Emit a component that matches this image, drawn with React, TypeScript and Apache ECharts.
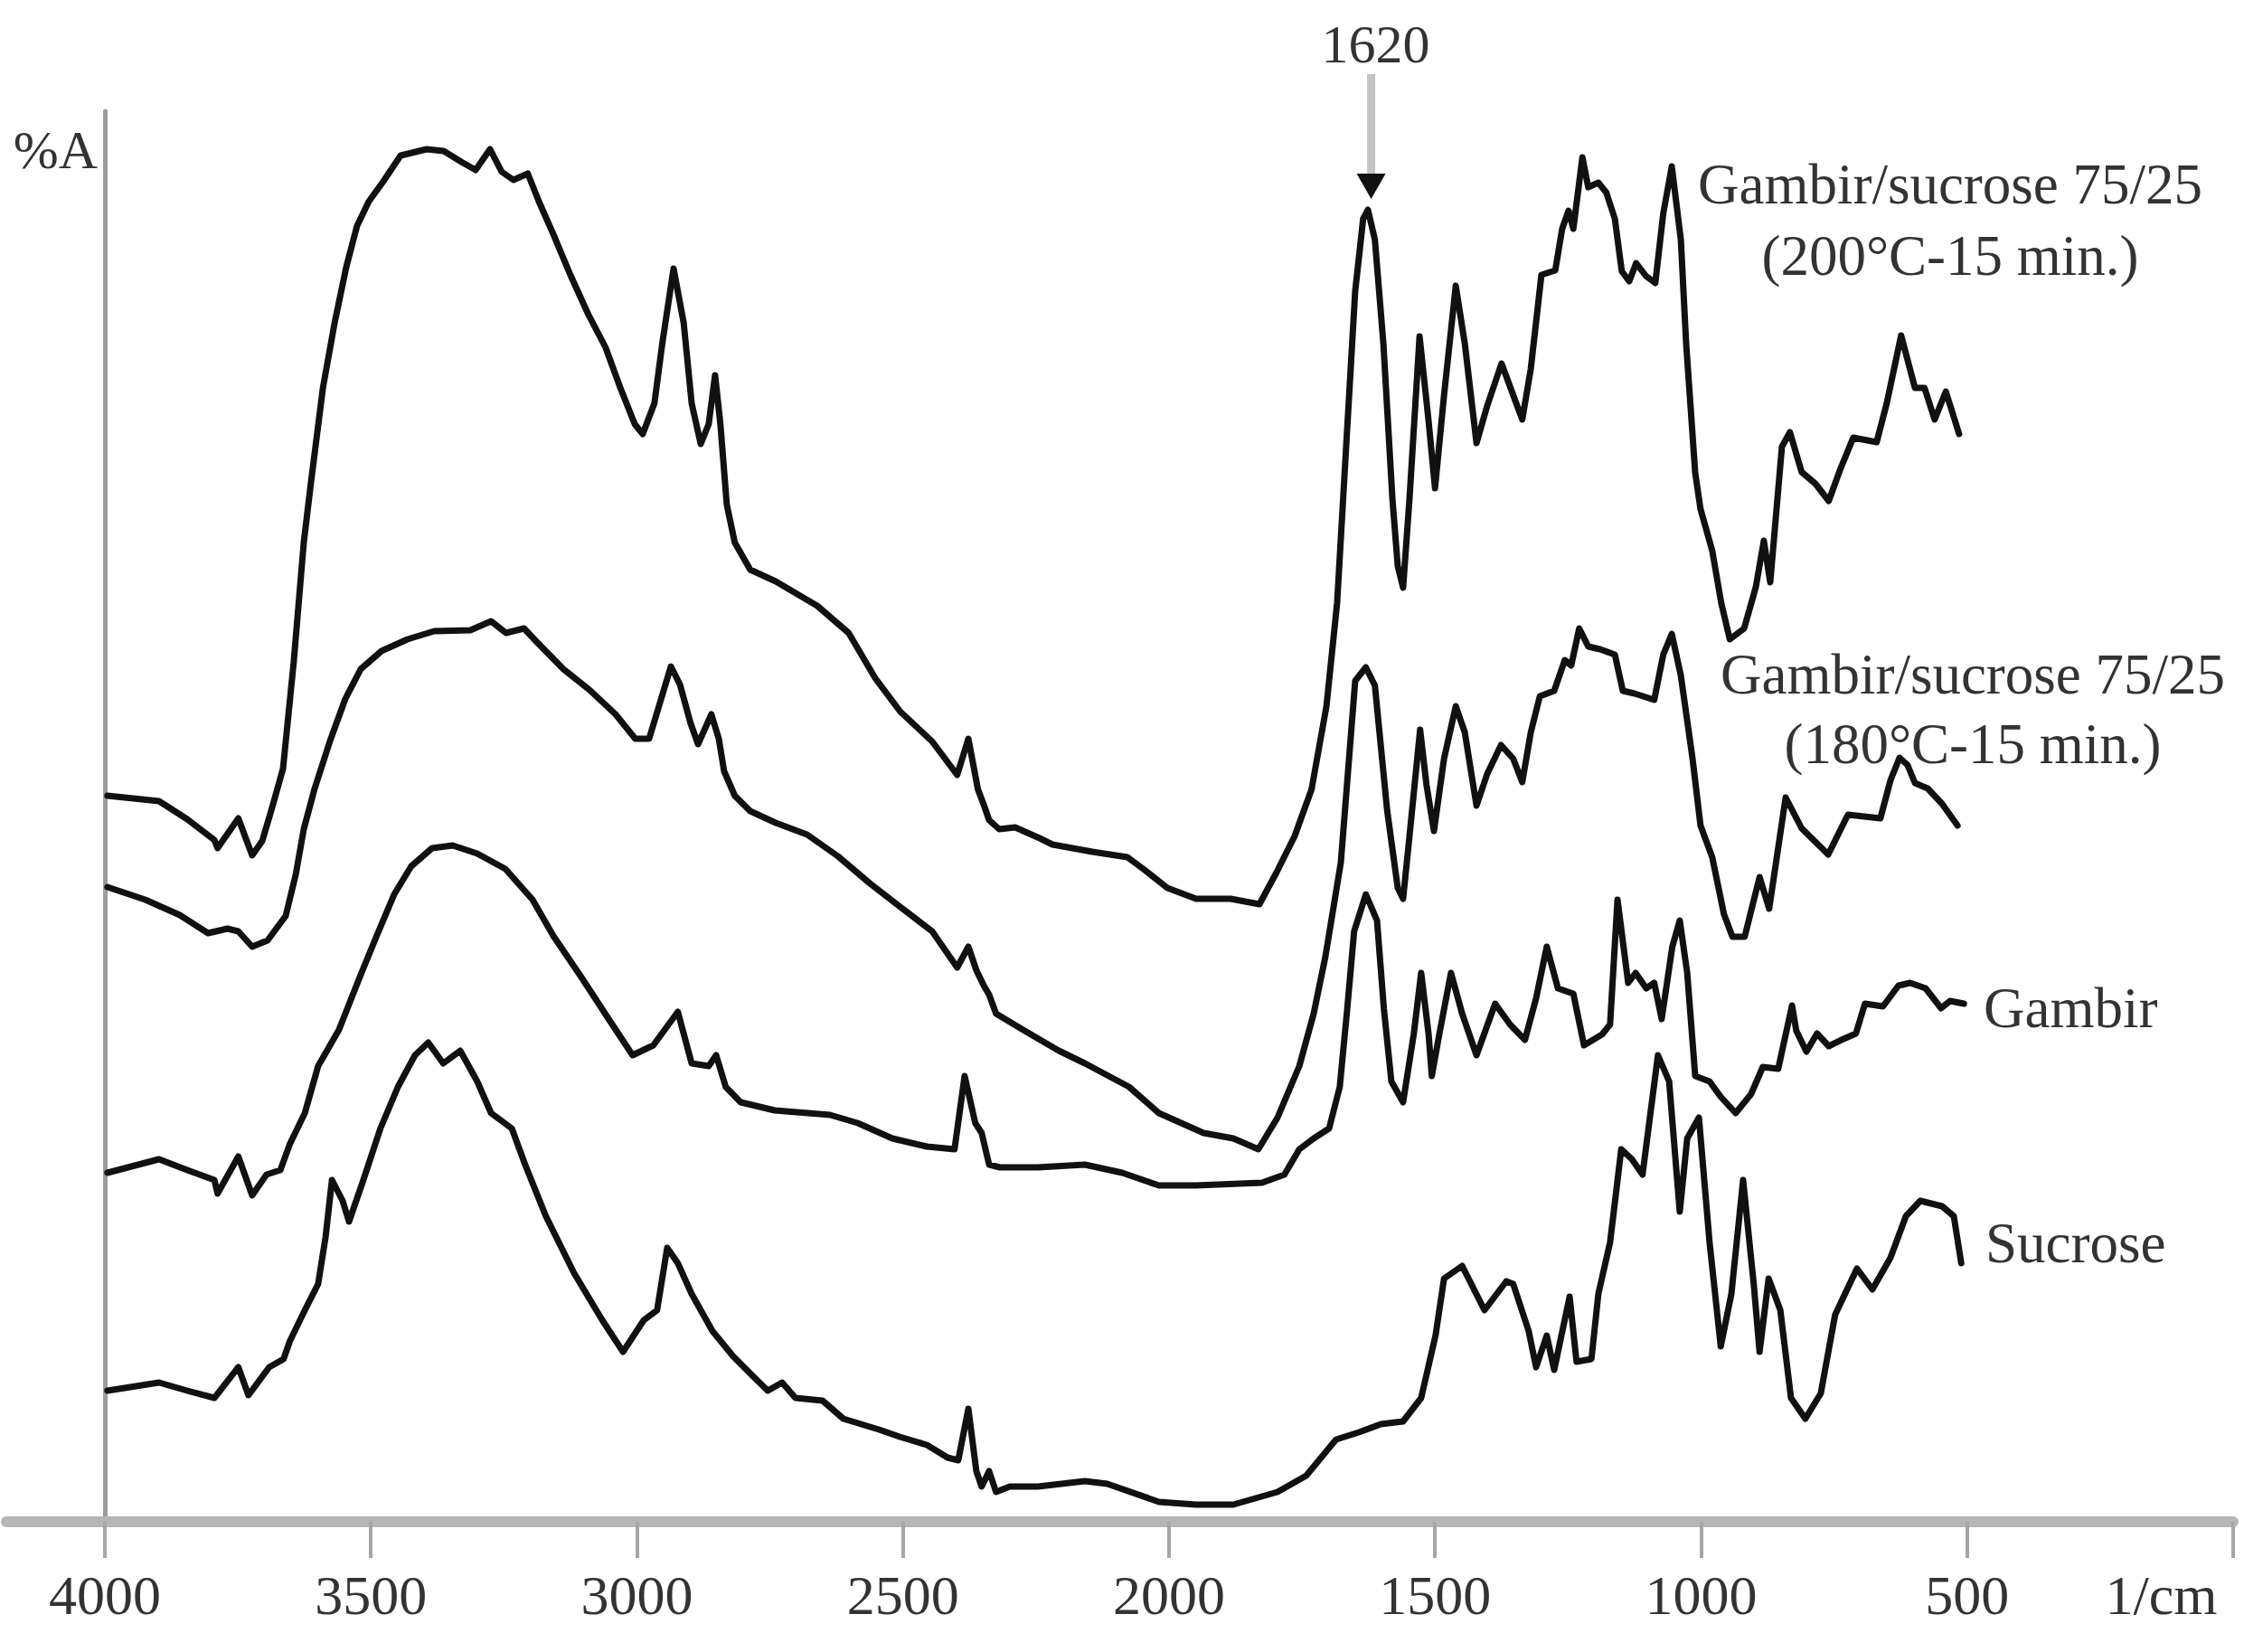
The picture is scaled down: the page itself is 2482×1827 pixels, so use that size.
import React, { useEffect, useRef } from 'react';
import * as echarts from 'echarts';

// x axis: wavenumber (1/cm), drawn reversed
const tickValues = [0, 500, 1000, 1500, 2000, 2500, 3000, 3500, 4000];
const labelValues = [500, 1000, 1500, 2000, 2500, 3000, 3500, 4000];
const unitValue = 135;
const unitText = '1/cm';
const yName = '%A';
const peakValue = 1620;
const peakText = '1620';

const label200 = ['Gambir/sucrose 75/25', '(200\u00B0C-15 min.)'];
const label180 = ['Gambir/sucrose 75/25', '(180\u00B0C-15 min.)'];
const labelGambir = 'Gambir';
const labelSucrose = 'Sucrose';

// [wavenumber, absorbance (offset, arbitrary units)]
const gs200: number[][] = [
  [3995, 80.3], [3898, 79.7], [3845, 77.7], [3794, 75.4], [3788, 74.5], [3749, 77.8], [3723, 73.7],
  [3704, 75.3], [3684, 79.3], [3665, 83.3], [3645, 95.0], [3626, 108.3], [3613, 114.7], [3590, 125.4],
  [3568, 132.6], [3546, 138.8], [3526, 143.3], [3504, 146.0], [3477, 148.2], [3444, 151.1], [3395, 151.8],
  [3363, 151.6], [3330, 150.4], [3303, 149.5], [3276, 151.8], [3254, 149.3], [3232, 148.4], [3205, 149.1],
  [3184, 146.0], [3157, 142.4], [3125, 137.9], [3091, 133.5], [3059, 129.9], [3031, 125.4], [3004, 121.4],
  [2989, 120.3], [2967, 123.7], [2952, 130.4], [2931, 138.6], [2912, 132.6], [2897, 123.7], [2880, 119.2],
  [2865, 121.4], [2853, 126.8], [2843, 121.4], [2831, 112.5], [2816, 108.3], [2787, 105.3], [2739, 104.0],
  [2661, 101.3], [2602, 98.3], [2552, 93.3], [2505, 89.6], [2445, 86.3], [2398, 82.6], [2377, 86.6],
  [2359, 81.0], [2348, 79.3], [2338, 77.6], [2319, 76.6], [2289, 76.8], [2243, 75.6], [2219, 74.9],
  [2144, 74.1], [2078, 73.5], [2046, 72.1], [2003, 70.1], [1949, 68.9], [1884, 68.9], [1830, 68.3],
  [1798, 71.8], [1764, 75.8], [1732, 81.0], [1704, 90.2], [1684, 101.6], [1667, 118.9], [1650, 136.1],
  [1635, 144.1], [1626, 145.1], [1613, 141.8], [1597, 130.3], [1580, 113.1], [1570, 105.7], [1560, 103.3],
  [1548, 113.1], [1529, 131.1], [1512, 121.7], [1500, 114.3], [1483, 124.6], [1461, 136.7], [1444, 130.3],
  [1422, 119.3], [1402, 123.4], [1375, 128.1], [1353, 124.6], [1336, 121.9], [1320, 127.5], [1300, 137.9],
  [1274, 138.4], [1261, 143.0], [1249, 145.0], [1240, 143.0], [1223, 150.9], [1212, 147.6], [1193, 148.1],
  [1178, 147.0], [1162, 144.1], [1149, 138.3], [1135, 137.2], [1122, 139.2], [1104, 137.8], [1086, 137.0],
  [1071, 144.7], [1055, 149.9], [1038, 141.8], [1028, 130.3], [1011, 116.0], [1001, 112.0], [979, 107.4],
  [962, 101.6], [946, 97.6], [919, 98.8], [897, 103.4], [882, 108.5], [870, 103.9], [848, 118.9],
  [833, 120.5], [811, 116.1], [785, 114.8], [760, 112.9], [739, 116.3], [714, 119.9], [670, 119.4],
  [651, 123.7], [624, 131.2], [598, 125.4], [580, 125.4], [561, 121.9], [540, 125.0], [515, 120.3]
];

const gs180: number[][] = [
  [3995, 70.2], [3924, 68.8], [3859, 67.1], [3806, 65.1], [3769, 65.6], [3749, 65.3], [3723, 63.6],
  [3694, 64.3], [3660, 67.0], [3641, 71.6], [3626, 76.6], [3606, 81.0], [3577, 86.3], [3548, 91.0],
  [3519, 94.3], [3480, 96.3], [3431, 97.6], [3381, 98.5], [3313, 98.6], [3274, 99.6], [3246, 98.3],
  [3212, 98.8], [3188, 97.3], [3138, 94.3], [3089, 92.0], [3040, 89.3], [3003, 86.6], [2977, 86.6],
  [2958, 90.3], [2936, 94.6], [2919, 92.6], [2899, 88.3], [2885, 86.0], [2860, 89.3], [2846, 86.6],
  [2836, 83.0], [2816, 80.3], [2787, 78.6], [2739, 77.3], [2680, 76.0], [2622, 73.6], [2562, 70.6],
  [2505, 68.0], [2445, 65.3], [2398, 61.3], [2377, 63.6], [2362, 61.0], [2348, 59.3], [2338, 58.3],
  [2325, 56.2], [2274, 54.4], [2207, 52.1], [2158, 50.7], [2075, 48.1], [2019, 45.2], [1935, 43.0],
  [1879, 42.4], [1832, 41.2], [1796, 44.7], [1755, 50.4], [1728, 56.2], [1706, 62.5], [1677, 72.9],
  [1650, 93.0], [1630, 94.5], [1613, 92.5], [1590, 78.7], [1570, 70.1], [1560, 68.9], [1548, 75.8],
  [1528, 87.6], [1516, 81.5], [1502, 76.4], [1483, 84.4], [1461, 90.2], [1444, 87.3], [1422, 79.2],
  [1402, 82.7], [1376, 85.9], [1353, 84.4], [1336, 81.8], [1320, 87.3], [1303, 91.3], [1276, 91.9],
  [1256, 95.3], [1244, 94.7], [1229, 98.8], [1212, 96.8], [1190, 96.5], [1162, 95.9], [1147, 91.9],
  [1125, 91.6], [1088, 90.9], [1071, 95.9], [1055, 98.2], [1038, 93.6], [1016, 84.4], [1001, 77.0],
  [979, 73.5], [957, 67.2], [941, 64.7], [918, 64.7], [890, 71.3], [872, 67.8], [841, 80.1],
  [811, 76.7], [761, 73.8], [724, 78.2], [663, 77.8], [644, 82.0], [627, 84.5], [612, 83.7],
  [598, 81.7], [574, 81.1], [547, 79.4], [518, 77.0]
];

const gambir: number[][] = [
  [3995, 38.6], [3898, 40.1], [3845, 38.9], [3794, 37.8], [3788, 36.3], [3749, 40.4], [3723, 36.1],
  [3696, 38.4], [3670, 38.9], [3652, 41.8], [3624, 45.2], [3599, 50.4], [3560, 54.4], [3521, 60.2],
  [3489, 64.8], [3456, 69.4], [3424, 72.5], [3385, 74.5], [3346, 74.8], [3300, 73.9], [3247, 72.2],
  [3196, 68.8], [3157, 64.8], [3104, 60.2], [3053, 55.6], [3008, 51.6], [2969, 52.7], [2923, 56.4],
  [2897, 50.7], [2865, 50.4], [2851, 51.6], [2833, 48.1], [2805, 46.4], [2741, 45.5], [2637, 45.0],
  [2585, 44.1], [2520, 42.4], [2455, 41.5], [2403, 41.2], [2384, 49.3], [2364, 44.1], [2352, 43.0],
  [2338, 39.5], [2318, 39.2], [2246, 39.2], [2158, 39.5], [2088, 38.6], [2019, 37.2], [1949, 37.2],
  [1825, 37.5], [1783, 38.4], [1755, 41.2], [1728, 42.4], [1699, 43.5], [1679, 48.1], [1665, 56.7],
  [1652, 65.3], [1630, 69.4], [1609, 66.5], [1596, 56.7], [1582, 48.7], [1560, 46.4], [1540, 53.9],
  [1526, 60.7], [1512, 53.9], [1506, 49.3], [1492, 53.9], [1470, 60.7], [1449, 56.2], [1422, 51.6],
  [1387, 57.3], [1359, 55.0], [1331, 53.3], [1310, 57.9], [1290, 63.6], [1269, 59.0], [1240, 58.4],
  [1220, 52.7], [1186, 53.9], [1171, 55.0], [1157, 68.8], [1137, 59.6], [1123, 60.7], [1103, 59.0],
  [1088, 59.6], [1074, 55.6], [1054, 63.6], [1040, 66.5], [1026, 60.7], [1011, 49.3], [984, 48.7],
  [963, 47.0], [935, 45.2], [906, 47.3], [884, 50.3], [855, 50.1], [829, 57.1], [821, 54.3],
  [802, 52.0], [782, 54.0], [760, 52.6], [736, 53.3], [709, 54.0], [692, 57.3], [658, 57.0],
  [629, 59.3], [607, 59.6], [578, 59.0], [549, 56.8], [532, 57.6], [506, 57.3]
];

const sucrose: number[][] = [
  [3995, 14.5], [3898, 15.4], [3845, 14.5], [3794, 13.7], [3749, 17.1], [3730, 14.0], [3691, 17.1],
  [3664, 18.0], [3652, 20.0], [3624, 23.4], [3599, 26.3], [3585, 31.5], [3573, 37.8], [3553, 35.5],
  [3541, 33.2], [3514, 37.8], [3482, 43.5], [3449, 48.1], [3417, 51.6], [3392, 53.0], [3364, 50.7],
  [3332, 52.1], [3300, 48.7], [3274, 45.2], [3235, 43.5], [3210, 39.5], [3171, 33.8], [3118, 27.5],
  [3065, 22.3], [3026, 18.8], [2987, 22.3], [2962, 23.4], [2943, 30.3], [2923, 28.6], [2897, 25.2],
  [2858, 21.1], [2819, 18.3], [2780, 16.0], [2754, 14.5], [2727, 15.4], [2702, 13.7], [2651, 13.4],
  [2612, 11.4], [2545, 10.2], [2506, 9.4], [2455, 8.5], [2416, 7.1], [2396, 6.8], [2377, 12.5],
  [2362, 5.6], [2352, 3.9], [2338, 5.6], [2325, 3.3], [2299, 3.9], [2246, 3.9], [2158, 4.5],
  [2116, 4.2], [2019, 2.2], [1949, 1.9], [1879, 1.9], [1796, 3.3], [1742, 5.1], [1686, 9.1],
  [1643, 9.9], [1602, 10.8], [1560, 11.1], [1526, 13.7], [1499, 20.6], [1483, 26.9], [1449, 28.3],
  [1407, 23.4], [1366, 26.6], [1353, 26.3], [1324, 21.1], [1310, 17.1], [1290, 20.6], [1276, 16.8],
  [1247, 24.9], [1234, 17.7], [1206, 18.0], [1193, 25.2], [1171, 30.9], [1150, 41.2], [1130, 40.1],
  [1110, 38.4], [1081, 51.6], [1060, 48.7], [1040, 34.3], [1026, 42.4], [1004, 44.7], [984, 30.9],
  [963, 19.4], [943, 25.2], [921, 37.8], [901, 26.3], [890, 18.8], [873, 26.9], [851, 23.4],
  [831, 13.7], [804, 11.4], [775, 14.2], [748, 22.9], [707, 28.0], [678, 25.7], [644, 29.2],
  [615, 33.8], [588, 35.5], [547, 34.9], [525, 33.8], [511, 28.6]
];

const FONT = "'Liberation Serif', 'DejaVu Serif', serif";
const TEXT = '#333333';
const LINE = '#111111';

function textEl(text: string, x: number, y: number, align: string, size = 62) {
  return {
    type: 'text',
    x,
    y,
    silent: true,
    style: { text, fontFamily: FONT, fontSize: size, fill: TEXT, align, verticalAlign: 'middle' }
  };
}

export default function App() {
  const ref = useRef<HTMLDivElement>(null);

  useEffect(() => {
    if (!ref.current) return;
    const chart = echarts.init(ref.current, null, { renderer: 'svg' });
    const mkSeries = (name: string, data: number[][]) => ({
      name,
      type: 'line',
      data,
      showSymbol: false,
      symbol: 'none',
      smooth: false,
      clip: false,
      lineStyle: { color: LINE, width: 7, join: 'round', cap: 'round' },
      emphasis: { disabled: true }
    });
    chart.setOption({
      animation: false,
      backgroundColor: '#ffffff',
      grid: { left: 7, right: 12, top: 123, bottom: 144, containLabel: false, outerBoundsMode: 'none' },
      xAxis: {
        type: 'value',
        inverse: true,
        min: 0,
        max: 4185,
        splitLine: { show: false },
        axisLine: { show: true, onZero: false, lineStyle: { color: '#b6b6b6', width: 12 } },
        axisTick: { show: true, customValues: tickValues, length: 40, lineStyle: { color: '#a6a6a6', width: 4 } },
        axisLabel: {
          show: true,
          customValues: [...labelValues, unitValue],
          formatter: (v: number) => (v === unitValue ? unitText : String(v)),
          margin: 50,
          fontFamily: FONT,
          fontSize: 62,
          color: TEXT
        }
      },
      yAxis: {
        type: 'value',
        min: 0,
        max: 156,
        position: 'left',
        offset: -109,
        splitLine: { show: false },
        axisTick: { show: false },
        axisLabel: { show: false },
        axisLine: { show: true, onZero: false, lineStyle: { color: '#9c9c9c', width: 5 } }
      },
      series: [
        mkSeries('Gambir/sucrose 75/25 (200\u00B0C-15 min.)', gs200),
        mkSeries('Gambir/sucrose 75/25 (180\u00B0C-15 min.)', gs180),
        mkSeries('Gambir', gambir),
        mkSeries('Sucrose', sucrose)
      ]
    });

    const px = chart.convertToPixel({ xAxisIndex: 0, yAxisIndex: 0 }, [peakValue, 0]) as number[];
    const ax = px[0];
    chart.setOption({
      graphic: [
        textEl(yName, 108, 166, 'right', 60),
        textEl(peakText, ax + 5, 49, 'center', 60),
        {
          type: 'line',
          silent: true,
          shape: { x1: ax, y1: 82, x2: ax, y2: 194 },
          style: { stroke: '#c4c4c4', lineWidth: 9 }
        },
        {
          type: 'polygon',
          silent: true,
          shape: { points: [[ax - 16, 192], [ax + 16, 192], [ax, 220]] },
          style: { fill: '#111111' }
        },
        textEl(label200[0], 2157, 204, 'center', 63),
        textEl(label200[1], 2157, 283, 'center', 63),
        textEl(label180[0], 2182, 746, 'center', 63),
        textEl(label180[1], 2182, 823, 'center', 63),
        textEl(labelGambir, 2194, 1115, 'left', 63),
        textEl(labelSucrose, 2196, 1375, 'left', 63)
      ]
    });

    return () => chart.dispose();
  }, []);

  return (
    <div
      ref={ref}
      style={{ position: 'fixed', left: 0, top: 0, width: 2482, height: 1827, background: '#fff' }}
    />
  );
}
